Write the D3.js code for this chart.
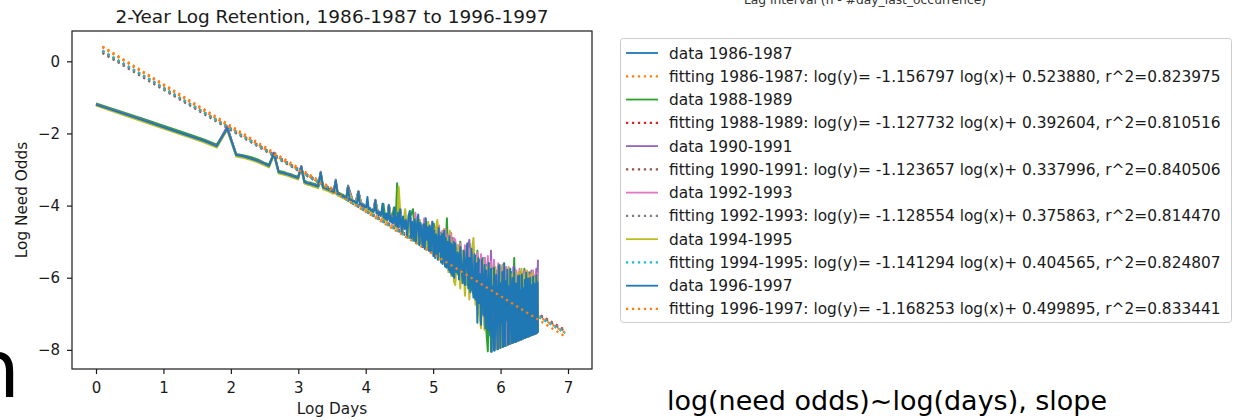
<!DOCTYPE html>
<html>
<head>
<meta charset="utf-8">
<script src="https://cdn.jsdelivr.net/npm/d3@7"></script>
<style>
  html, body { margin: 0; padding: 0; background: #ffffff; }
  svg { display: block; }
</style>
</head>
<body>
<svg id="chart" width="1245" height="420"></svg>
<script>
// ---------------------------------------------------------------------------
// Two-year windows, matplotlib "tab10" colours (data line, then fitted line)
// ---------------------------------------------------------------------------
const periods = ["1986-1987", "1988-1989", "1990-1991", "1992-1993", "1994-1995", "1996-1997"];
const dataColors = ["#1f77b4", "#2ca02c", "#9467bd", "#e377c2", "#bcbd22", "#1f77b4"];
const fitColors  = ["#ff7f0e", "#d62728", "#8c564b", "#7f7f7f", "#17becf", "#ff7f0e"];

// Least-squares fits: log(y) = slope * log(x) + intercept
const fitSlopes     = [-1.156797, -1.127732, -1.123657, -1.128554, -1.141294, -1.168253];
const fitIntercepts = [0.523880, 0.392604, 0.337996, 0.375863, 0.404565, 0.499895];
const fitR2         = [0.823975, 0.810516, 0.840506, 0.814470, 0.824807, 0.833441];
const fitLogDayRange = [0.095, 6.96];

// Lag (days since last occurrence) at which need odds were tabulated
const lagDaysFine   = [...d3.range(1, 92), ...d3.range(93, 204, 2), ...d3.range(206, 703, 4)];
const lagDaysCoarse = [...d3.range(1, 43), ...d3.range(45, 92, 2), ...d3.range(94, 203, 4), ...d3.range(206, 703, 8)];

// Log need odds per lag (coarse lag grid)
const logOdds1986 = [
  -1.20,-1.63,-1.89,-2.07,-2.21,-2.35,-1.87, -2.60,-2.64,-2.70,-2.76,-2.83,-2.90,-2.57,
  -3.07,-3.10,-3.13,-3.17,-3.20,-3.24,-2.94, -3.35,-3.38,-3.40,-3.42,-3.45,-3.47,-3.11,
  -3.50,-3.52,-3.55,-3.58,-3.60,-3.63,-3.34, -3.67,-3.69,-3.72,-3.74,-3.77,-3.79,-3.51,
  -3.88,-3.92,-3.62,-3.95,-3.99,-4.04,-4.10,-4.14,-4.18,-3.86,-4.16,-4.19,-4.21,-4.33,-4.37,-4.40,-4.00,-4.28,-4.34,-4.27,-4.55,-4.58,-4.60,-4.10,
  -4.72,-4.38,-4.82,-4.33,-4.92,-4.42,-4.98,-4.47,-5.08,-4.52,-5.12,-4.58,-5.22,-4.62,-5.32,-4.68,-5.38,-4.72,-5.48,-4.80,-5.52,-4.88,-5.60,-4.92,-5.68,-5.02,-5.80,-5.05,
  -5.80,-5.10,-6.00,-5.25,-6.15,-5.15,-6.30,-5.30,-6.45,-5.40,-6.70,-5.50,-7.10,-5.45,-7.30,-5.65,-7.40,-5.70,-7.55,-5.75,-8.02,
  -6.40,-5.80,-7.97,-6.70,-5.75,-7.92,-6.30,-5.85,-7.88,-6.60,-5.90,-7.84,-6.20,-5.85,-7.80,-6.50,-5.95,-7.77,-6.10,-6.00,-7.73,
  -6.45,-5.90,-7.70,-6.25,-6.05,-7.66,-6.55,-5.95,-7.63,-6.30,-6.00,-7.60,-6.50,-6.05,-7.57,-6.35,-6.10,-7.55,-6.60,-6.05,-7.52
];
const logOdds1988 = [
  -1.17,-1.59,-1.85,-2.03,-2.17,-2.31,-1.84, -2.57,-2.61,-2.66,-2.72,-2.80,-2.86,-2.55,
  -3.04,-3.06,-3.10,-3.13,-3.17,-3.20,-2.92, -3.31,-3.35,-3.36,-3.39,-3.41,-3.44,-3.06,
  -3.47,-3.48,-3.52,-3.54,-3.57,-3.59,-3.28, -3.64,-3.65,-3.69,-3.70,-3.74,-3.75,-3.44,
  -3.86,-3.90,-3.60,-3.92,-3.97,-4.02,-4.06,-4.12,-4.15,-3.84,-4.12,-4.18,-4.20,-3.95,-4.35,-4.36,-3.98,-4.25,-4.30,-4.05,-4.52,-3.38,-4.58,-4.08,
  -4.70,-4.35,-4.85,-4.30,-4.10,-4.90,-4.40,-5.00,-4.55,-5.10,-4.45,-5.05,-4.60,-5.25,-4.50,-5.30,-4.70,-5.40,-4.75,-5.50,-4.85,-5.55,-4.35,-5.60,-4.95,-5.70,-4.90,-5.85,
  -5.20,-5.90,-5.00,-6.10,-5.35,-6.20,-5.05,-6.35,-5.40,-6.55,-5.25,-6.80,-5.50,-7.00,-5.45,-7.40,-8.04,-5.60,-8.05,-6.20,-5.55,
  -7.30,-6.00,-7.97,-5.65,-6.85,-7.92,-5.75,-6.50,-7.88,-5.80,-7.15,-6.20,-7.82,-5.85,-6.70,-5.45,-7.78,-6.10,-7.05,-5.90,-7.73,
  -6.30,-5.95,-7.70,-6.60,-5.75,-7.66,-6.25,-5.95,-7.63,-6.50,-5.85,-7.60,-6.20,-6.05,-7.57,-6.45,-5.95,-7.55,-6.15,-6.90,-7.52
];
const logOdds1990 = [
  -1.19,-1.62,-1.88,-2.06,-2.20,-2.34,-1.80, -2.59,-2.63,-2.69,-2.75,-2.82,-2.89,-2.53,
  -3.06,-3.09,-3.12,-3.16,-3.19,-3.23,-2.90, -3.34,-3.37,-3.39,-3.41,-3.44,-3.46,-3.07,
  -3.49,-3.51,-3.54,-3.57,-3.59,-3.62,-3.30, -3.66,-3.68,-3.71,-3.73,-3.76,-3.78,-3.46,
  -3.87,-3.91,-3.61,-3.94,-3.98,-4.03,-4.09,-4.13,-4.17,-3.85,-4.15,-4.18,-4.20,-4.32,-4.36,-4.39,-3.99,-4.27,-4.33,-4.26,-4.54,-4.57,-4.59,-4.09,
  -4.75,-4.40,-4.80,-4.35,-4.90,-4.30,-4.95,-4.50,-5.05,-4.40,-5.10,-4.65,-5.15,-4.55,-5.30,-4.80,-5.35,-4.70,-5.45,-4.75,-5.50,-4.85,-5.55,-4.90,-5.65,-4.95,-5.75,-5.00,
  -5.90,-5.15,-6.00,-5.30,-6.10,-5.20,-4.95,-6.20,-5.35,-6.40,-5.50,-6.60,-5.40,-6.80,-5.60,-7.00,-5.55,-7.10,-5.25,-7.20,-5.75,
  -6.60,-7.98,-5.85,-6.40,-7.93,-5.70,-6.90,-7.89,-5.90,-6.45,-7.85,-5.80,-6.75,-7.81,-6.00,-5.70,-7.78,-6.35,-5.95,-7.74,-6.20,
  -5.85,-7.71,-6.45,-6.00,-7.67,-5.95,-6.60,-7.64,-5.90,-6.40,-7.61,-6.05,-5.80,-7.58,-6.30,-6.00,-7.56,-6.20,-5.75,-7.53,-5.50
];
const logOdds1992 = [
  -1.21,-1.64,-1.90,-2.08,-2.22,-2.36,-1.88, -2.61,-2.65,-2.71,-2.77,-2.84,-2.91,-2.58,
  -3.08,-3.11,-3.14,-3.18,-3.21,-3.25,-2.95, -3.36,-3.39,-3.41,-3.43,-3.46,-3.48,-3.12,
  -3.51,-3.53,-3.56,-3.59,-3.61,-3.64,-3.36, -3.68,-3.70,-3.73,-3.75,-3.78,-3.80,-3.53,
  -3.89,-3.93,-3.63,-3.96,-4.00,-4.05,-4.11,-4.15,-4.19,-3.87,-4.17,-4.20,-4.22,-4.34,-4.38,-4.41,-4.01,-4.29,-4.35,-4.28,-4.56,-4.59,-4.61,-4.11,
  -4.65,-4.25,-4.75,-4.40,-4.85,-4.20,-4.90,-4.45,-5.00,-4.35,-5.05,-4.55,-5.10,-4.45,-5.20,-4.60,-5.30,-4.55,-5.35,-4.70,-5.45,-4.65,-5.50,-4.80,-5.60,-4.75,-5.70,-4.90,
  -4.95,-5.80,-5.05,-5.95,-5.10,-6.05,-5.20,-6.15,-5.15,-6.30,-5.30,-6.50,-5.35,-6.70,-5.45,-6.90,-5.40,-7.05,-5.55,-6.80,-5.50,
  -7.95,-6.10,-5.60,-7.94,-6.45,-5.65,-7.90,-6.20,-5.70,-7.86,-6.35,-5.75,-7.82,-6.55,-5.70,-7.79,-6.15,-5.80,-7.75,-6.40,-5.75,
  -7.72,-6.25,-5.85,-7.68,-6.50,-5.80,-7.65,-6.30,-5.85,-7.62,-6.45,-5.90,-7.59,-6.20,-5.80,-7.57,-6.35,-5.90,-7.54,-6.10,-5.85
];
const logOdds1994 = [
  -1.23,-1.67,-1.93,-2.11,-2.25,-2.39,-1.90, -2.64,-2.68,-2.74,-2.80,-2.87,-2.94,-2.60,
  -3.11,-3.14,-3.17,-3.21,-3.24,-3.28,-2.97, -3.39,-3.42,-3.44,-3.47,-3.49,-3.52,-3.14,
  -3.55,-3.57,-3.59,-3.62,-3.65,-3.67,-3.38, -3.72,-3.74,-3.76,-3.79,-3.81,-3.84,-3.55,
  -3.91,-3.95,-3.66,-3.98,-4.03,-4.07,-4.13,-4.17,-4.21,-3.90,-4.20,-4.23,-4.26,-4.36,-4.40,-4.44,-4.04,-4.32,-4.38,-4.31,-4.60,-4.62,-3.48,-4.14,
  -4.80,-4.10,-4.90,-4.45,-4.95,-4.35,-5.05,-4.40,-5.10,-4.50,-5.20,-4.45,-5.25,-4.60,-5.40,-4.70,-4.40,-5.50,-4.80,-5.60,-4.65,-5.70,-4.90,-5.85,-4.70,-5.95,-5.00,-6.10,
  -6.20,-5.10,-6.30,-5.25,-6.50,-5.15,-6.60,-5.30,-4.90,-6.75,-5.45,-7.00,-7.40,-5.50,-7.45,-5.70,-7.20,-5.65,-7.55,-5.80,-6.90,
  -5.70,-7.98,-6.30,-5.75,-7.93,-6.60,-5.60,-7.89,-6.05,-7.15,-5.70,-7.84,-6.40,-5.90,-7.80,-6.70,-5.80,-7.77,-6.25,-5.85,-7.73,
  -6.55,-5.75,-7.70,-6.30,-5.90,-7.66,-6.75,-5.80,-7.63,-6.35,-5.95,-7.60,-6.60,-5.85,-7.57,-6.30,-6.00,-7.55,-6.55,-5.95,-7.52
];
// Log need odds per lag (fine lag grid)
const logOdds1996 = [
  -1.20,-1.63,-1.89,-2.07,-2.21,-2.35,-1.86,
  -2.60,-2.64,-2.70,-2.76,-2.83,-2.90,-2.56,
  -3.07,-3.10,-3.13,-3.17,-3.20,-3.24,-2.93,
  -3.35,-3.38,-3.40,-3.42,-3.45,-3.47,-3.10,
  -3.50,-3.52,-3.55,-3.58,-3.60,-3.63,-3.33,
  -3.67,-3.69,-3.72,-3.74,-3.77,-3.79,-3.50,
  -3.84,-3.83,-3.88,-3.87,-3.92,-3.93,-3.62,
  -3.97,-3.95,-4.01,-3.99,-4.05,-4.04,-3.76,
  -4.10,-4.06,-4.14,-4.11,-4.18,-4.13,-3.86,
  -4.22,-4.16,-4.26,-4.19,-4.29,-4.21,-3.95,
  -4.33,-4.24,-4.37,-4.22,-4.40,-4.30,-4.00,
  -4.44,-4.28,-4.47,-4.34,-4.50,-4.27,-4.05,
  -4.55,-4.33,-4.58,-4.20,-4.60,-4.38,-4.10,
  -4.76,-4.30,-4.65,-4.40,-4.85,-4.28,-4.15,-4.90,
  -4.45,-4.95,-4.38,-5.02,-4.50,-4.25,-5.10,-4.48,
  -4.70,-5.15,-4.52,-5.20,-4.35,-4.95,-4.60,-5.25,
  -4.55,-5.30,-4.75,-4.45,-5.40,-4.70,-5.45,-4.80,
  -5.05,-5.50,-4.62,-5.28,-4.85,-5.58,-4.78,-5.62,
  -4.95,-4.70,-5.68,-4.90,-5.72,-5.00,-5.35,-5.78,
  -4.85,-5.85,-5.05,-5.90,-5.10,-5.95,-5.00,-6.00,
  -5.05,-5.85,-5.30,-6.05,-5.15,-5.70,-6.15,-5.25,-6.20,-5.55,-5.05,-6.30,-5.45,-6.40,-5.20,-6.10,-6.55,
  -5.35,-6.60,-5.60,-7.25,-5.45,-6.70,-5.90,-7.30,-5.50,-6.45,-7.05,-5.65,-7.40,-5.80,-6.75,-7.45,-5.60,-7.00,-7.60,-5.75,
  -8.05,-6.25,-6.93,-5.72,-8.02,-6.62,-5.92,-7.30,-7.98,-6.36,-5.66,-6.86,-7.95,-6.15,-7.24,-5.84,-7.92,-6.52,-5.60,-7.89,-6.78,-6.09,-7.18,-5.78,-7.86,
  -6.24,-6.74,-7.84,-5.75,-7.13,-6.43,-7.81,-6.01,-6.70,-7.79,-5.71,-7.09,-7.78,-6.16,-6.38,-7.76,-6.65,-5.96,-7.74,-7.05,-5.94,-7.72,-6.33,-6.61,-7.71,
  -5.91,-7.01,-7.69,-6.29,-6.58,-7.67,-6.06,-6.97,-7.66,-5.86,-6.55,-7.64,-6.95,-6.02,-7.63,-6.23,-7.62,-6.51,-6.00,-7.60,-6.91,-6.20,-7.59,-6.48,-7.58,
  -5.97,-6.88,-7.57,-6.17,-7.56,-6.45,-6.86,-7.54,-5.93,-7.53,-6.43,-6.13,-7.52
];
const logOddsSeries = [logOdds1986, logOdds1988, logOdds1990, logOdds1992, logOdds1994, logOdds1996];
const lagGrids = [lagDaysCoarse, lagDaysCoarse, lagDaysCoarse, lagDaysCoarse, lagDaysCoarse, lagDaysFine];

// Axes
const xLimits = [-0.356, 7.356];
const yLimits = [-8.53, 0.84];
const xTicks = [0, 1, 2, 3, 4, 5, 6, 7];
const yTicks = [0, -2, -4, -6, -8];

const titleText = "2-Year Log Retention, 1986-1987 to 1996-1997";
const xLabel = "Log Days";
const yLabel = "Log Need Odds";
const headerText = "Lag interval (n - #day_last_occurrence)";
const footerText = "log(need odds)~log(days), slope";

// ---------------------------------------------------------------------------
const FONT = "'DejaVu Sans', sans-serif";
const svg = d3.select("#chart");
const box = { left: 72, right: 592, top: 31, bottom: 369 };

const x = d3.scaleLinear().domain(xLimits).range([box.left, box.right]);
const y = d3.scaleLinear().domain(yLimits).range([box.bottom, box.top]);

svg.append("defs").append("clipPath").attr("id", "plot-clip")
  .append("rect")
  .attr("x", box.left).attr("y", box.top)
  .attr("width", box.right - box.left).attr("height", box.bottom - box.top);

const plotLayer = svg.append("g").attr("clip-path", "url(#plot-clip)");

const dataLine = d3.line()
  .x(d => x(Math.log(d.day)))
  .y(d => y(d.value));
const fitLine = d3.line()
  .x(d => x(d.logDay))
  .y(d => y(d.value));

periods.forEach((period, i) => {
  const days = lagGrids[i];
  const points = logOddsSeries[i]
    .map((v, k) => ({ day: days[k], value: v }))
    .filter(p => p.day !== undefined);

  plotLayer.append("path")
    .datum(points)
    .attr("d", dataLine)
    .attr("fill", "none")
    .attr("stroke", dataColors[i])
    .attr("stroke-width", 2)
    .attr("stroke-linejoin", "round")
    .attr("stroke-linecap", "butt");

  const fitPoints = fitLogDayRange.map(ld => ({ logDay: ld, value: fitSlopes[i] * ld + fitIntercepts[i] }));
  plotLayer.append("path")
    .datum(fitPoints)
    .attr("d", fitLine)
    .attr("fill", "none")
    .attr("stroke", fitColors[i])
    .attr("stroke-width", 2.25)
    .attr("stroke-dasharray", "2.25,3.7");
});

// Axis frame
svg.append("rect")
  .attr("x", box.left).attr("y", box.top)
  .attr("width", box.right - box.left).attr("height", box.bottom - box.top)
  .attr("fill", "none").attr("stroke", "#1a1a1a").attr("stroke-width", 1.2);

const fmt = d3.format("d");
const xAxis = svg.append("g")
  .attr("transform", `translate(0,${box.bottom})`)
  .call(d3.axisBottom(x).tickValues(xTicks).tickFormat(fmt).tickSize(5).tickPadding(8));
const yAxis = svg.append("g")
  .attr("transform", `translate(${box.left},0)`)
  .call(d3.axisLeft(y).tickValues(yTicks).tickFormat(fmt).tickSize(5).tickPadding(7));

[xAxis, yAxis].forEach(ax => {
  ax.attr("font-family", FONT).attr("font-size", 15);
  ax.select(".domain").remove();
  ax.selectAll(".tick line").attr("stroke", "#1a1a1a").attr("stroke-width", 1.2);
  ax.selectAll(".tick text").attr("fill", "#1a1a1a");
});

// Title and axis labels
svg.append("text")
  .attr("x", (box.left + box.right) / 2).attr("y", 23)
  .attr("text-anchor", "middle")
  .attr("font-family", FONT).attr("font-size", 18.5).attr("fill", "#1a1a1a")
  .text(titleText);

svg.append("text")
  .attr("x", (box.left + box.right) / 2).attr("y", 414)
  .attr("text-anchor", "middle")
  .attr("font-family", FONT).attr("font-size", 15.3).attr("fill", "#1a1a1a")
  .text(xLabel);

svg.append("text")
  .attr("transform", `translate(27,${(box.top + box.bottom) / 2}) rotate(-90)`)
  .attr("text-anchor", "middle")
  .attr("font-family", FONT).attr("font-size", 15.3).attr("fill", "#1a1a1a")
  .text(yLabel);

// Legend
const legend = svg.append("g");
legend.append("rect")
  .attr("x", 620.5).attr("y", 38.5)
  .attr("width", 611).attr("height", 284)
  .attr("rx", 3)
  .attr("fill", "#ffffff").attr("stroke", "#cccccc");

const legendEntries = [];
periods.forEach((period, i) => {
  legendEntries.push({ label: `data ${period}`, color: dataColors[i], dotted: false });
  legendEntries.push({
    label: `fitting ${period}: log(y)= ${fitSlopes[i].toFixed(6)} log(x)+ ${fitIntercepts[i].toFixed(6)}, r^2=${fitR2[i].toFixed(6)}`,
    color: fitColors[i], dotted: true
  });
});

legendEntries.forEach((e, j) => {
  const cy = 53 + j * 23.27;
  legend.append("line")
    .attr("x1", 626).attr("x2", 658)
    .attr("y1", cy).attr("y2", cy)
    .attr("stroke", e.color)
    .attr("stroke-width", e.dotted ? 2.25 : 1.8)
    .attr("stroke-dasharray", e.dotted ? "2.25,3.7" : null);
  legend.append("text")
    .attr("x", 669).attr("y", cy + 5.5)
    .attr("font-family", FONT).attr("font-size", 15.4).attr("fill", "#1a1a1a")
    .text(e.label);
});

// Surrounding page text
svg.append("text")
  .attr("x", 865).attr("y", 4)
  .attr("text-anchor", "middle")
  .attr("font-family", FONT).attr("font-size", 12.3).attr("fill", "#333333")
  .text(headerText);

svg.append("text")
  .attr("x", 667).attr("y", 410)
  .attr("font-family", FONT).attr("font-size", 26).attr("fill", "#000000")
  .attr("textLength", 440).attr("lengthAdjust", "spacingAndGlyphs")
  .text(footerText);

svg.append("text")
  .attr("x", 20).attr("y", 397)
  .attr("text-anchor", "end")
  .attr("font-family", FONT).attr("font-size", 80).attr("fill", "#000000")
  .text("n");
</script>
</body>
</html>
